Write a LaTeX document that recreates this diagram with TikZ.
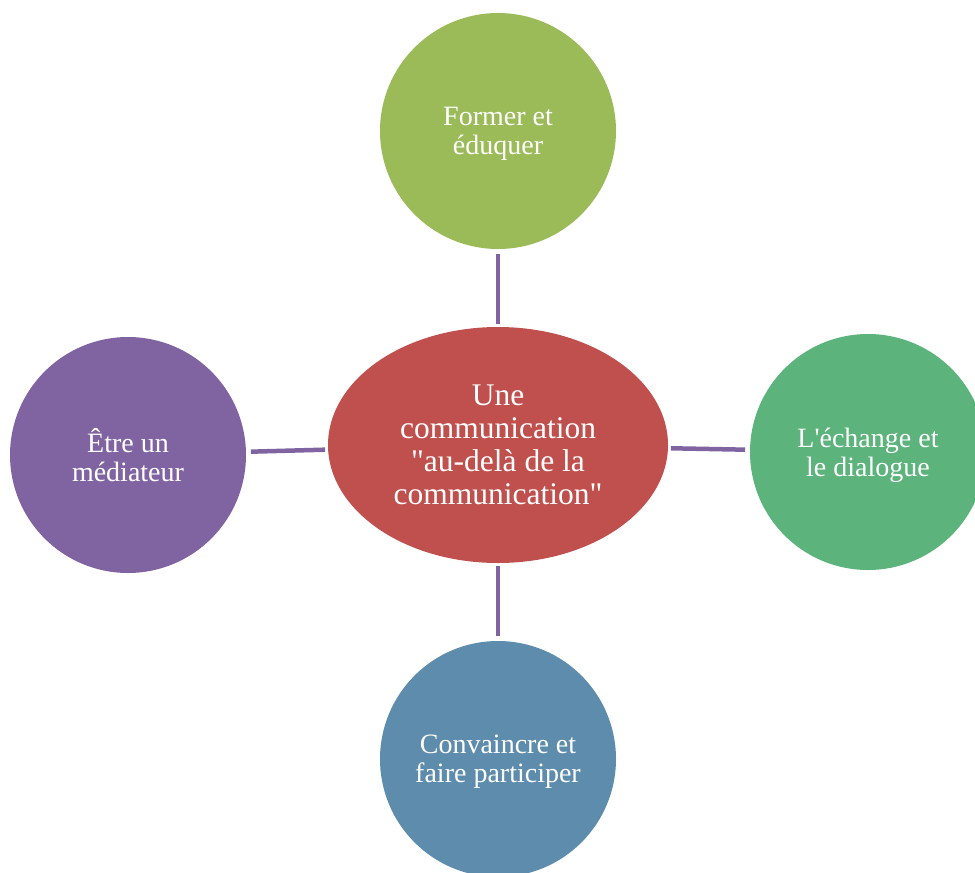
\documentclass[tikz,border=0pt]{standalone}
\usepackage{fontspec}
\newfontfamily\lsf{Liberation Serif}
\usetikzlibrary{shapes.geometric}

\definecolor{rouge}{HTML}{C0504D}
\definecolor{vert}{HTML}{9BBB59}
\definecolor{vertd}{HTML}{5CB37C}
\definecolor{bleu}{HTML}{5E8CAC}
\definecolor{violet}{HTML}{8064A2}

\tikzset{
	bulle/.style={circle, minimum size=236pt, inner sep=0pt, outer sep=0pt,
		text=white, align=center, text depth=-2pt,
		font=\lsf\fontsize{28}{29}\selectfont},
	lien/.style={draw=violet, line width=4.5pt, shorten <=3pt, shorten >=5pt},
}

\begin{document}
\begin{tikzpicture}[x=1pt, y=-1pt]
	\useasboundingbox (0,0) rectangle (975,873);
	% centre
	\node[ellipse, fill=rouge, minimum width=340pt, minimum height=236pt,
		inner sep=0pt, outer sep=0pt, text=white, align=center, text depth=-3pt,
		font=\lsf\fontsize{31.5}{33}\selectfont] (c) at (498,445)
		{Une\\communication\\"au-delà de la\\communication"};
	% satellites
	\node[bulle, fill=vert] (haut) at (498,131) {Former et\\éduquer};
	\node[bulle, fill=vertd] (droite) at (868,452) {L'échange et\\le dialogue};
	\node[bulle, fill=bleu] (bas) at (498,759) {Convaincre et\\faire participer};
	\node[bulle, fill=violet] (gauche) at (128,455) {Être un\\médiateur};
	\draw[lien] (c) -- (haut);
	\draw[lien] (c) -- (droite);
	\draw[lien] (c) -- (bas);
	\draw[lien] (c) -- (gauche);
\end{tikzpicture}
\end{document}
